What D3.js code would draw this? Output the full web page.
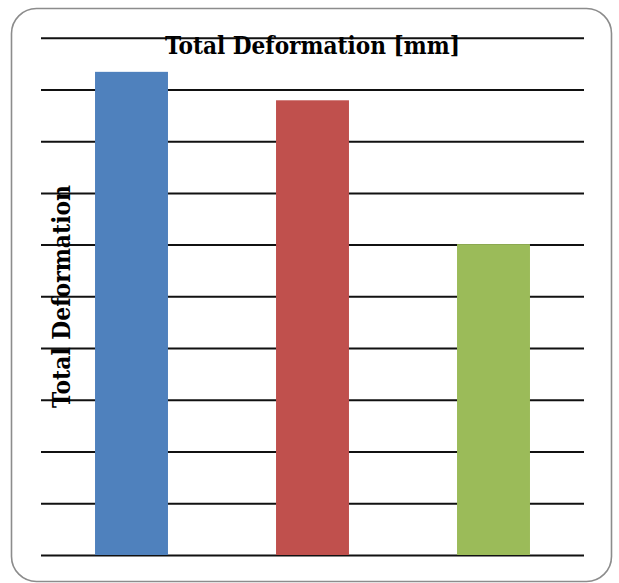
<!DOCTYPE html>
<html>
<head>
<meta charset="utf-8">
<script src="https://cdn.jsdelivr.net/npm/d3@7"></script>
<style>
  html, body { margin: 0; padding: 0; background: #fff; }
  svg { display: block; }
</style>
</head>
<body>
<script>
// ---- data ----
const categories = ["A", "B", "C"];
const values = [9.34, 8.79, 6.01];
const colors = ["#4F81BD", "#C0504D", "#9BBB59"];
const yTicks = [0, 1, 2, 3, 4, 5, 6, 7, 8, 9, 10];
const chartTitle = "Total Deformation [mm]";
const yTitle = "Total Deformation";

const W = 619, H = 583;
const svg = d3.select("body").append("svg").attr("width", W).attr("height", H);

// outer rounded border
svg.append("rect")
  .attr("x", 11.5).attr("y", 8.5)
  .attr("width", 600).attr("height", 573)
  .attr("rx", 25).attr("ry", 25)
  .attr("fill", "#fff")
  .attr("stroke", "#8c8c8c").attr("stroke-width", 1.6);

const plot = { left: 41, right: 584, top: 37.7, bottom: 555 };

const x = d3.scaleBand().domain(categories)
  .range([plot.left, plot.right])
  .paddingInner(0.597).paddingOuter(0.2985);
const y = d3.scaleLinear().domain([0, 10]).range([plot.bottom, plot.top]);

// gridlines
const yAxis = d3.axisLeft(y).tickValues(yTicks)
  .tickSize(-(plot.right - plot.left)).tickFormat("");
const g = svg.append("g").attr("transform", `translate(${plot.left},0)`).call(yAxis);
g.select(".domain").remove();
g.selectAll(".tick line").attr("stroke", "#111").attr("stroke-width", 2);

// bars
svg.append("g").selectAll("rect").data(values).join("rect")
  .attr("x", (d, i) => x(categories[i]))
  .attr("width", x.bandwidth())
  .attr("y", d => y(d))
  .attr("height", d => y(0) - y(d))
  .attr("fill", (d, i) => colors[i]);

// titles
const font = "'DejaVu Serif Condensed', 'DejaVu Serif', serif";
function fit(sel, target) {
  const l = sel.node().getComputedTextLength();
  if (Math.abs(l - target) > 3) {
    const fs = +sel.attr("font-size");
    sel.attr("font-size", fs * target / l);
  }
}
const t = svg.append("text")
  .attr("x", 312.5).attr("y", 54)
  .attr("text-anchor", "middle")
  .attr("font-family", font).attr("font-weight", "bold")
  .style("font-stretch", "condensed")
  .attr("font-size", 23).attr("fill", "#000")
  .text(chartTitle);
fit(t, 295);

const yt = svg.append("text")
  .attr("transform", "translate(69.5,296.5) rotate(-90)")
  .attr("text-anchor", "middle")
  .attr("font-family", font).attr("font-weight", "bold")
  .style("font-stretch", "condensed")
  .attr("font-size", 23).attr("fill", "#000")
  .text(yTitle);
fit(yt, 223);
</script>
</body>
</html>
